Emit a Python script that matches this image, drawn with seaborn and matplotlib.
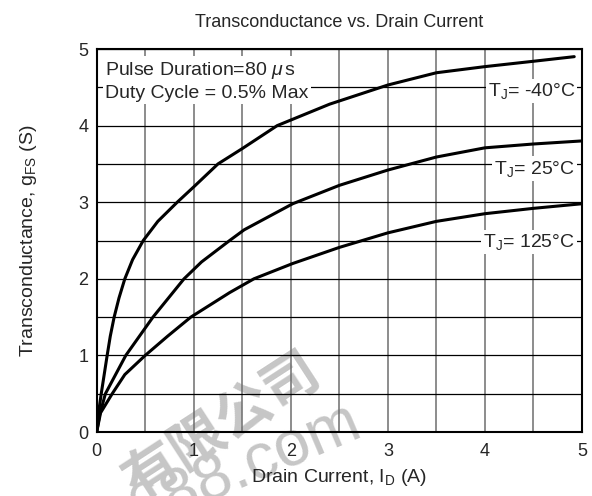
import matplotlib
matplotlib.use("Agg")
import matplotlib.pyplot as plt
import numpy as np
import pandas as pd
import seaborn as sns

# values
id_m40 = [0, 0.01, 0.02, 0.047, 0.108, 0.14, 0.18, 0.23, 0.29, 0.37, 0.48, 0.63, 0.83,
          1.0, 1.25, 1.5, 1.86, 2.4, 3.0, 3.5, 4.0, 4.5, 4.92]
gfs_m40 = [0, 0.15, 0.26, 0.5, 1.0, 1.25, 1.5, 1.75, 2.0, 2.25, 2.5, 2.75, 3.0,
           3.2, 3.5, 3.7, 4.0, 4.28, 4.53, 4.69, 4.77, 4.84, 4.9]

id_25 = [0, 0.03, 0.09, 0.3, 0.58, 0.9, 1.08, 1.37, 1.52, 2.02, 2.5, 3.0, 3.5, 4.0, 4.5, 5.0]
gfs_25 = [0, 0.22, 0.5, 1.0, 1.5, 2.0, 2.22, 2.5, 2.64, 2.98, 3.22, 3.42, 3.59, 3.71, 3.76, 3.8]

id_125 = [0, 0.04, 0.16, 0.29, 0.5, 0.73, 0.97, 1.37, 1.62, 2.02, 2.5, 3.0, 3.5, 4.0, 4.5, 5.0]
gfs_125 = [0, 0.25, 0.5, 0.75, 1.0, 1.25, 1.5, 1.82, 2.0, 2.2, 2.41, 2.6, 2.75, 2.85, 2.92, 2.98]

temps = ["-40", "25", "125"]
label_y = [4.45, 3.44, 2.48]
x_ticks = [0, 1, 2, 3, 4, 5]
y_ticks = [0, 1, 2, 3, 4, 5]

df = pd.concat([
    pd.DataFrame({"Id": id_m40, "gfs": gfs_m40, "Tj": "-40"}),
    pd.DataFrame({"Id": id_25, "gfs": gfs_25, "Tj": "25"}),
    pd.DataFrame({"Id": id_125, "gfs": gfs_125, "Tj": "125"}),
])

sns.set_style("white")
plt.rcParams["font.family"] = ["Liberation Sans", "DejaVu Sans"]
plt.rcParams["mathtext.fontset"] = "custom"
plt.rcParams["mathtext.rm"] = "Liberation Sans"
plt.rcParams["mathtext.it"] = "Liberation Sans:italic"

fig = plt.figure(figsize=(5.92, 4.96), dpi=100)
fig.patch.set_facecolor("white")
ax = fig.add_axes([0.1633, 0.129, 0.8198, 0.7722])
ax.patch.set_alpha(0)

# faint watermark behind the axes
fig.text(0.375, 0.14, "有限公司", rotation=33, fontsize=40,
         color="#c6c6c6", ha="center", va="center", rotation_mode="anchor",
         family=["Noto Sans CJK SC"], fontweight="bold", zorder=-5)
fig.text(0.415, 0.058, "688.com", rotation=23, fontsize=46,
         color="#c6c6c6", ha="center", va="center", rotation_mode="anchor",
         zorder=-5)

sns.lineplot(data=df, x="Id", y="gfs", hue="Tj", palette=["black"] * 3,
             estimator=None, sort=False, legend=False, lw=2.2, ax=ax, zorder=3)

ax.set_xlim(0, 5)
ax.set_ylim(0, 5)
ax.set_xticks(x_ticks)
ax.set_yticks(y_ticks)
ax.set_xticks(np.arange(0.5, 5, 1.0), minor=True)
ax.set_yticks(np.arange(0.5, 5, 1.0), minor=True)
ax.tick_params(which="both", length=0, labelsize=13)
ax.tick_params(axis="x", pad=8)
ax.tick_params(axis="y", pad=6)
ax.xaxis.grid(True, which="both", color="#6e6e6e", lw=1.1)
ax.yaxis.grid(True, which="both", color="black", lw=0.9)
ax.set_axisbelow(True)
for s in ax.spines.values():
    s.set_color("black")
    s.set_linewidth(1.5)

ax.set_title("Transconductance vs. Drain Current", fontsize=13, pad=16)
ax.set_xlabel(r"Drain Current, I$_{\rm D}$ (A)", fontsize=14, labelpad=5)
ax.set_ylabel(r"Transconductance, g$_{\rm FS}$ (S)", fontsize=14, labelpad=28)

box = dict(facecolor="white", edgecolor="none", pad=1.5)
ax.text(0.09, 4.86, "Pulse Duration=80 $\\mu\\,$s\nDuty Cycle = 0.5% Max",
        fontsize=14, va="top", ha="left", linespacing=1.3, bbox=box, zorder=4)
for t, yy in zip(temps, label_y):
    ax.text(4.93, yy, "T$_{\\rm J}$= " + t + "°C", fontsize=14,
            ha="right", va="center", bbox=box, zorder=4)

fig.savefig("out.png", dpi=100)
